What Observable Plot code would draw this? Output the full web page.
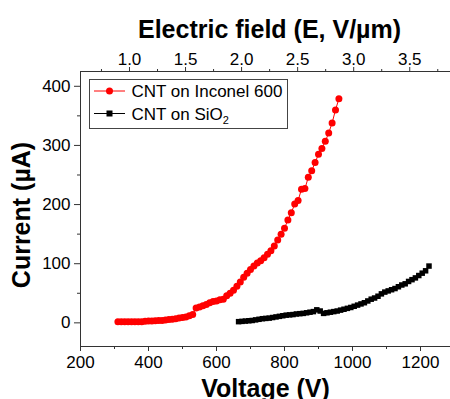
<!DOCTYPE html>
<html><head><meta charset="utf-8">
<script src="https://cdn.jsdelivr.net/npm/d3@7"></script>
<script src="https://cdn.jsdelivr.net/npm/@observablehq/plot@0.6"></script>
<style>html,body{margin:0;padding:0;overflow:hidden;background:#fff}</style>
</head><body><div id="chart"></div>
<script>
// Series: CNT on Inconel 600 (red circles)
const inconelV = [310,320,330,340,350,360,370,380,390,400,410,420,430,440,450,460,470,480,490,500,510,520,530,540,550,560,570,580,590,600,610,620,630,640,650,660,670,680,690,700,710,720,730,740,750,760,770,780,790,800,810,820,830,840,850,860,870,880,890,900,910,920,930,940,950,960];
const inconelI = [2,2,2,2,2,2,2,2,2.5,3,3,3.5,4,4,5,5.5,6,7,8,9,10,12,14,25,27,29,31,34,36,37,39,40,46,50,55,62,69,77,84,90,96,101,105,110,116,122,130,140,150,160,174,186,201,207,226,227,246,257,271,285,295,307,321,338,360,379];
// Series: CNT on SiO2 (black squares)
const sio2V = [665,675,685,695,705,715,725,735,745,755,765,775,785,795,805,815,825,835,845,855,865,875,885,895,905,915,925,935,945,955,965,975,985,995,1005,1015,1025,1035,1045,1055,1065,1075,1085,1095,1105,1115,1125,1135,1145,1155,1165,1175,1185,1195,1205,1215,1225];
const sio2I = [2,2.5,3,3.5,4,5,6,7,7.5,8,9,10,11,12,13,13.5,14,15,15.5,16,17,18,19,22,20,16,17,18,19,20,21.5,23,24.5,26,28,30,32,34,37,40,42,45,49,52,54,56,58,61,64,66,70,73,76,80,84,88,96];

const xTicks = [200,400,600,800,1000,1200];
const xMinor = [300,500,700,900,1100];
const yTicks = [0,100,200,300,400];
const yMinor = [50,150,250,350];
const eTicks = [1.0,1.5,2.0,2.5,3.0,3.5];
const eLabels = ["1.0","1.5","2.0","2.5","3.0","3.5"];
const eMinor = [0.75,1.25,1.75,2.25,2.75,3.25,3.75];
const seriesNames = ["CNT on Inconel 600","CNT on SiO"];
const seriesColors = ["#ff0000","#000000"];

// Electric field axis: E (V/µm) -> applied voltage (V)
const vPerE = 329.7, vOffset = 14.4;
const toV = e => vOffset + vPerE * e;
const eLabelByV = new Map(eTicks.map((e, i) => [toV(e), eLabels[i]]));

const inconel = inconelV.map((v, i) => ({v, c: inconelI[i]}));
const sio2 = sio2V.map((v, i) => ({v, c: sio2I[i]}));

const font = "'Liberation Sans', Arial, sans-serif";
const axisStroke = "#333";
const tickFont = 17;

const plot = Plot.plot({
  width: 450, height: 399,
  marginLeft: 80, marginTop: 71, marginBottom: 53, marginRight: 0,
  style: {fontFamily: font, fontSize: "17px", color: "#000", background: "#fff"},
  x: {domain: [200, 1300], range: [80, 454]},
  y: {domain: [-40, 425]},
  marks: [
    Plot.ruleX([200], {stroke: axisStroke}),
    Plot.ruleY([-40], {stroke: axisStroke}),
    Plot.ruleY([425], {stroke: axisStroke}),
    Plot.axisX({anchor: "bottom", ticks: xTicks, tickFormat: d => String(d), tickSize: 5, tickPadding: 4, fontSize: tickFont, label: null, stroke: axisStroke}),
    Plot.axisX({anchor: "bottom", ticks: xMinor, tickSize: 3, tickFormat: () => "", label: null, stroke: axisStroke}),
    Plot.axisY({anchor: "left", ticks: yTicks, tickFormat: d => String(d), tickSize: 6, tickPadding: 4, fontSize: tickFont, label: null, stroke: axisStroke}),
    Plot.axisY({anchor: "left", ticks: yMinor, tickSize: 3, tickFormat: () => "", label: null, stroke: axisStroke}),
    Plot.axisX({anchor: "top", ticks: eTicks.map(toV), tickFormat: d => eLabelByV.get(d), tickSize: 5, tickPadding: 2, fontSize: tickFont, label: null, stroke: axisStroke}),
    Plot.axisX({anchor: "top", ticks: eMinor.map(toV), tickFormat: () => "", tickSize: 3, label: null, stroke: axisStroke}),
    Plot.line(inconel, {x: "v", y: "c", stroke: seriesColors[0], strokeWidth: 1}),
    Plot.dot(inconel, {x: "v", y: "c", r: 3.5, fill: seriesColors[0], stroke: "none"}),
    Plot.line(sio2, {x: "v", y: "c", stroke: seriesColors[1], strokeWidth: 1}),
    Plot.dot(sio2, {x: "v", y: "c", r: 3.1, symbol: "square", fill: seriesColors[1], stroke: "none"}),
    Plot.text(["Electric field (E, V/µm)"], {text: d => d, frameAnchor: "top", dx: 4, dy: -34, lineAnchor: "bottom", fontSize: 25, fontWeight: "bold"}),
    Plot.text(["Voltage (V)"], {text: d => d, frameAnchor: "bottom", dy: 50, lineAnchor: "bottom", fontSize: 25, fontWeight: "bold"}),
    Plot.text(["Current (µA)"], {text: d => d, frameAnchor: "left", textAnchor: "middle", dx: -59, dy: 6, rotate: -90, lineAnchor: "middle", fontSize: 25, fontWeight: "bold"})
  ]
});

document.getElementById("chart").appendChild(plot);

// Legend box
const svg = d3.select(plot);
const lg = svg.append("g").attr("font-family", font).attr("font-size", tickFont).attr("text-anchor", "start");
lg.append("rect").attr("x", 89.5).attr("y", 79.5).attr("width", 198).attr("height", 49)
  .attr("fill", "#fff").attr("stroke", "#444");
const rows = [91, 113.5];
rows.forEach((ry, k) => {
  lg.append("line").attr("x1", 94).attr("x2", 125).attr("y1", ry).attr("y2", ry)
    .attr("stroke", seriesColors[k]).attr("stroke-width", 1);
  if (k === 0) {
    lg.append("circle").attr("cx", 109.5).attr("cy", ry).attr("r", 3.5).attr("fill", seriesColors[k]);
  } else {
    lg.append("rect").attr("x", 106.5).attr("y", ry - 3).attr("width", 6).attr("height", 6).attr("fill", seriesColors[k]);
  }
  const t = lg.append("text").attr("x", 131.5).attr("y", ry + 6).attr("fill", "#000").attr("text-anchor", "start").text(seriesNames[k]);
  if (k === 1) t.append("tspan").attr("font-size", 11).attr("dy", 4).text("2");
});
</script>
</body></html>
